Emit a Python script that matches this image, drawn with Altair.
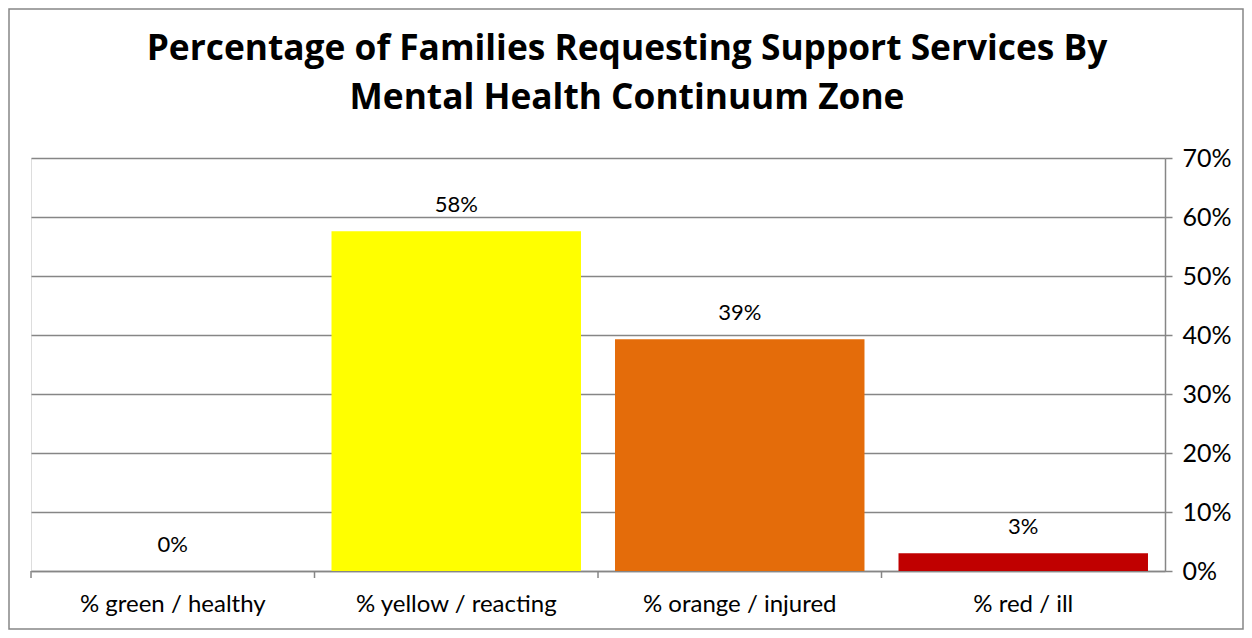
import altair as alt
import pandas as pd

categories = ["% green / healthy", "% yellow / reacting", "% orange / injured", "% red / ill"]
values = [0.0, 0.576, 0.393, 0.030]
colors = ["#00B050", "#FFFF00", "#E46C0A", "#C00000"]
title_lines = ["Percentage of Families Requesting Support Services By", "Mental Health Continuum Zone"]
y_ticks = [0, 0.1, 0.2, 0.3, 0.4, 0.5, 0.6, 0.7]

df = pd.DataFrame({"cat": categories, "val": values, "color": colors})
FONT = "Lato"

xscale = alt.Scale(domain=categories, paddingInner=0.12, paddingOuter=0.06)
yscale = alt.Scale(domain=[0, 0.7], nice=False)

base = alt.Chart(df)

bars = base.mark_bar().encode(
    x=alt.X("cat:N", scale=xscale, sort=categories, title=None,
            axis=alt.Axis(labelAngle=0, ticks=False, labelPadding=21, labelFontSize=24,
                          labelFont=FONT, labelColor="black", domainColor="#868686",
                          domainWidth=1.5, grid=False, labelLimit=0)),
    y=alt.Y("val:Q", scale=yscale, title=None,
            axis=alt.Axis(orient="right", values=y_ticks, format=".0%", grid=True,
                          gridColor="#868686", gridWidth=1.5, domainColor="#868686",
                          domainWidth=1.5, tickColor="#868686", tickWidth=1.5, tickSize=7,
                          labelPadding=10, labelFontSize=25, labelFont=FONT,
                          labelColor="black")),
    color=alt.Color("color:N", scale=None),
)

labels = base.mark_text(baseline="middle", dy=-26, fontSize=22, font=FONT, color="black").encode(
    x=alt.X("cat:N", scale=xscale, sort=categories),
    y=alt.Y("val:Q", scale=yscale),
    text=alt.Text("val:Q", format=".0%"),
)

xticks = base.mark_rule(color="#868686", strokeWidth=1.5, xOffset=-17).encode(
    x=alt.X("cat:N", scale=xscale, sort=categories, bandPosition=0),
    y=alt.value(413),
    y2=alt.value(420),
)

frame = alt.Chart(alt.Data(values=[{}])).mark_rect(
    fill=None, stroke="#868686", strokeWidth=1.5
).encode(
    x=alt.value(-22), x2=alt.value(1212), y=alt.value(-149), y2=alt.value(471)
)

TFONT = "Open Sans"
title1 = alt.Chart(alt.Data(values=[{"t": title_lines[0]}])).mark_text(
    font=TFONT, fontSize=35.3, fontWeight="bold", color="black", align="center", baseline="alphabetic"
).encode(text="t:N", x=alt.value(596), y=alt.value(-98))

title2 = alt.Chart(alt.Data(values=[{"t": title_lines[1]}])).mark_text(
    font=TFONT, fontSize=35.3, fontWeight="bold", color="black", align="center", baseline="alphabetic"
).encode(text="t:N", x=alt.value(596), y=alt.value(-49))

chart = alt.layer(frame, bars, labels, xticks, title1, title2).properties(
    width=1134,
    height=413,
    padding={"left": 23, "top": 150, "right": 79, "bottom": 59},
    autosize=alt.AutoSizeParams(type="none"),
).configure_view(stroke=None).configure(background="white")

chart.save("out.html", embed_options={"renderer": "svg", "actions": False})
